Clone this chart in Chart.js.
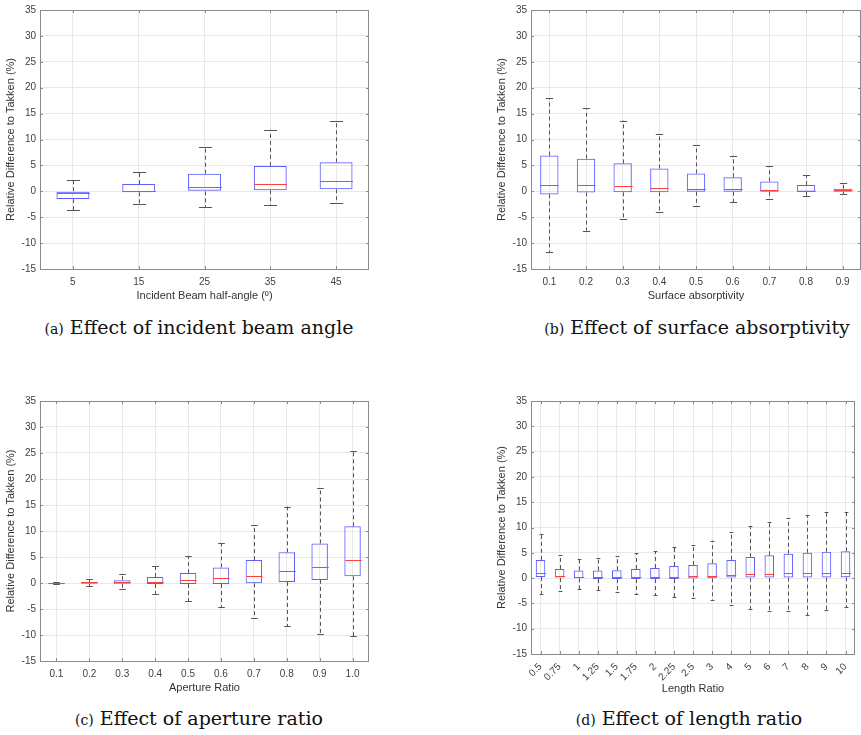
<!DOCTYPE html>
<html>
<head>
<meta charset="utf-8">
<script src="https://cdn.jsdelivr.net/npm/chart.js@4.4.1/dist/chart.umd.min.js"></script>
<style>
body { margin: 0; background: #fff; width: 861px; height: 735px; position: relative; overflow: hidden; }
canvas { position: absolute; }
.cap { position: absolute; font-family: "DejaVu Serif", serif; font-size: 19px; color: #111; white-space: nowrap; transform: translateX(-50%); }
.cap small { font-size: 14px; }
</style>
</head>
<body>
<canvas id="cA" width="380" height="307" style="left:0;top:0"></canvas>
<canvas id="cB" width="370" height="307" style="left:491px;top:0"></canvas>
<canvas id="cC" width="380" height="309" style="left:0;top:390px"></canvas>
<canvas id="cD" width="370" height="310" style="left:491px;top:390px"></canvas>
<div class="cap" style="left:199px;top:316px"><small>(a)</small> Effect of incident beam angle</div>
<div class="cap" style="left:697px;top:316px"><small>(b)</small> Effect of surface absorptivity</div>
<div class="cap" style="left:199px;top:707px"><small>(c)</small> Effect of aperture ratio</div>
<div class="cap" style="left:689px;top:707px"><small>(d)</small> Effect of length ratio</div>
<script>
// (a) incident beam half-angle
const angleLabels = ['5', '15', '25', '35', '45'];
const angleLow  = [-3.65, -2.5, -3.1, -2.7, -2.3];
const angleQ1   = [-1.5, -0.2, 0.0, 0.2, 0.4];
const angleMed  = [-0.3, 0.0, 0.8, 1.5, 1.9];
const angleQ3   = [0.0, 1.4, 3.4, 4.9, 5.6];
const angleHigh = [2.1, 3.7, 8.5, 11.9, 13.5];

// (b) surface absorptivity
const absLabels = ['0.1', '0.2', '0.3', '0.4', '0.5', '0.6', '0.7', '0.8', '0.9'];
const absLow  = [-11.7, -7.6, -5.4, -4.0, -2.9, -2.1, -1.5, -1.0, -0.5];
const absQ1   = [-0.6, -0.25, -0.2, -0.2, -0.1, -0.1, -0.1, -0.1, -0.1];
const absMed  = [1.15, 1.15, 0.95, 0.7, 0.5, 0.45, 0.3, 0.1, 0.2];
const absQ3   = [6.9, 6.3, 5.4, 4.4, 3.45, 2.7, 1.9, 1.2, 0.5];
const absHigh = [18.0, 16.0, 13.65, 11.15, 8.85, 6.9, 4.9, 3.1, 1.55];

// (c) aperture ratio
const apLabels = ['0.1', '0.2', '0.3', '0.4', '0.5', '0.6', '0.7', '0.8', '0.9', '1.0'];
const apLow  = [-0.1, -0.6, -1.2, -2.1, -3.5, -4.7, -6.7, -8.3, -9.8, -10.2];
const apQ1   = [-0.05, -0.15, -0.15, -0.2, -0.2, -0.2, -0.05, 0.2, 0.6, 1.3];
const apMed  = [0.0, 0.1, 0.15, 0.2, 0.5, 0.9, 1.4, 2.25, 3.05, 4.4];
const apQ3   = [0.05, 0.2, 0.55, 1.15, 1.9, 3.0, 4.4, 5.9, 7.6, 10.9];
const apHigh = [0.1, 0.7, 1.65, 3.2, 5.2, 7.7, 11.1, 14.7, 18.3, 25.4];

// (d) length ratio
const lenLabels = ['0.5', '0.75', '1', '1.25', '1.5', '1.75', '2', '2.25', '2.5', '3', '4', '5', '6', '7', '8', '9', '10'];
const lenLow  = [-3.1, -2.5, -2.2, -2.4, -2.8, -3.2, -3.35, -3.8, -4.0, -4.3, -5.3, -6.1, -6.5, -6.5, -7.3, -6.4, -5.7];
const lenQ1   = [0.2, 0.0, -0.05, -0.2, -0.2, -0.2, -0.2, -0.2, -0.1, -0.05, 0.0, 0.0, 0.0, 0.1, 0.1, 0.1, 0.15];
const lenMed  = [1.0, 0.4, 0.2, 0.15, 0.15, 0.15, 0.15, 0.3, 0.35, 0.4, 0.6, 0.8, 0.8, 1.0, 1.0, 1.0, 1.1];
const lenQ3   = [3.6, 1.8, 1.5, 1.5, 1.55, 1.8, 2.0, 2.4, 2.6, 2.95, 3.6, 4.15, 4.5, 4.8, 5.0, 5.2, 5.3];
const lenHigh = [8.75, 4.5, 3.7, 3.9, 4.3, 4.9, 5.3, 6.1, 6.5, 7.4, 9.1, 10.3, 11.05, 11.9, 12.45, 13.0, 13.15];

const yTitle = 'Relative Difference to Takken (%)';

// whiskers, caps, medians, frame and inward ticks
const boxExtras = {
	id: 'boxExtras',
	afterDatasetsDraw(chart, args, opts) {
		const ctx = chart.ctx;
		const xs = chart.scales.x, ys = chart.scales.y;
		const bars = chart.getDatasetMeta(0).data;
		ctx.save();
		opts.low.forEach(function (lo, i) {
			const x = Math.round(xs.getPixelForValue(i)) + 0.5;
			const w = bars[i].width;
			const cap = w * 0.2;
			ctx.strokeStyle = '#555';
			ctx.lineWidth = 1;
			ctx.setLineDash([4, 3]);
			ctx.beginPath();
			ctx.moveTo(x, ys.getPixelForValue(opts.q3[i]));
			ctx.lineTo(x, ys.getPixelForValue(opts.high[i]));
			ctx.moveTo(x, ys.getPixelForValue(opts.q1[i]));
			ctx.lineTo(x, ys.getPixelForValue(lo));
			ctx.stroke();
			ctx.setLineDash([]);
			ctx.beginPath();
			let yh = Math.round(ys.getPixelForValue(opts.high[i])) + 0.5;
			let yl = Math.round(ys.getPixelForValue(lo)) + 0.5;
			ctx.moveTo(x - cap, yh); ctx.lineTo(x + cap, yh);
			ctx.moveTo(x - cap, yl); ctx.lineTo(x + cap, yl);
			ctx.stroke();
			ctx.strokeStyle = '#ff4040';
			ctx.beginPath();
			let ym = Math.round(ys.getPixelForValue(opts.med[i])) + 0.5;
			ctx.moveTo(x - w / 2, ym); ctx.lineTo(x + w / 2, ym);
			ctx.stroke();
		});
		// frame
		const a = chart.chartArea;
		ctx.strokeStyle = '#8a8a8a';
		ctx.lineWidth = 1;
		ctx.strokeRect(Math.round(a.left) + 0.5, Math.round(a.top) + 0.5, Math.round(a.right - a.left) - 1, Math.round(a.bottom - a.top));
		ctx.beginPath();
		xs.ticks.forEach(function (t, i) {
			const x = Math.round(xs.getPixelForValue(i)) + 0.5;
			ctx.moveTo(x, a.bottom); ctx.lineTo(x, a.bottom - 3);
			ctx.moveTo(x, a.top); ctx.lineTo(x, a.top + 3);
		});
		ys.ticks.forEach(function (t) {
			const y = Math.round(ys.getPixelForValue(t.value)) + 0.5;
			ctx.moveTo(a.left, y); ctx.lineTo(a.left + 3, y);
			ctx.moveTo(a.right, y); ctx.lineTo(a.right - 3, y);
		});
		ctx.stroke();
		ctx.restore();
	}
};

function dibujar(id, labels, low, q1, med, q3, high, xTitle, padRight, padTop, xHeight, rot) {
	const ctx = document.getElementById(id).getContext('2d');
	new Chart(ctx, {
		type: 'bar',
		data: {
			labels: labels,
			datasets: [{
				data: labels.map(function (l, i) { return [q1[i], q3[i]]; }),
				backgroundColor: 'rgba(0,0,0,0)',
				borderColor: '#5c5cff',
				borderWidth: 1,
				borderSkipped: false,
				barPercentage: 0.5,
				categoryPercentage: 1.0
			}]
		},
		plugins: [boxExtras],
		options: {
			responsive: false,
			animation: false,
			layout: { padding: { top: padTop, right: padRight, left: 0, bottom: 0 } },
			plugins: {
				legend: { display: false },
				tooltip: { enabled: false },
				boxExtras: { low: low, q1: q1, med: med, q3: q3, high: high }
			},
			scales: {
				x: {
					offset: true,
					grid: { offset: false, color: '#e8e8e8', drawTicks: false },
					border: { display: false },
					ticks: {
						color: '#404040',
						font: { family: 'Liberation Sans', size: 10 },
						padding: 7,
						maxRotation: rot,
						minRotation: rot,
						autoSkip: false
					},
					title: {
						display: true,
						text: xTitle,
						color: '#333',
						font: { family: 'Liberation Sans', size: 11 },
						padding: { top: 0, bottom: 4 }
					},
					afterFit: function (axis) { axis.height = xHeight; }
				},
				y: {
					min: -15,
					max: 35,
					grid: { color: '#e8e8e8', drawTicks: false },
					border: { display: false },
					ticks: {
						stepSize: 5,
						color: '#404040',
						font: { family: 'Liberation Sans', size: 10 },
						padding: 4
					},
					title: {
						display: true,
						text: yTitle,
						color: '#333',
						font: { family: 'Liberation Sans', size: 11 },
						padding: { top: 4, bottom: 0 }
					},
					afterFit: function (axis) { axis.width = 40; }
				}
			}
		}
	});
}

dibujar('cA', angleLabels, angleLow, angleQ1, angleMed, angleQ3, angleHigh, 'Incident Beam half-angle (º)', 11, 9, 38, 0);
dibujar('cB', absLabels, absLow, absQ1, absMed, absQ3, absHigh, 'Surface absorptivity', 0, 9, 38, 0);
dibujar('cC', apLabels, apLow, apQ1, apMed, apQ3, apHigh, 'Aperture Ratio', 11, 11, 38, 0);
dibujar('cD', lenLabels, lenLow, lenQ1, lenMed, lenQ3, lenHigh, 'Length Ratio', 0, 11, 46, 45);
</script>
</body>
</html>
